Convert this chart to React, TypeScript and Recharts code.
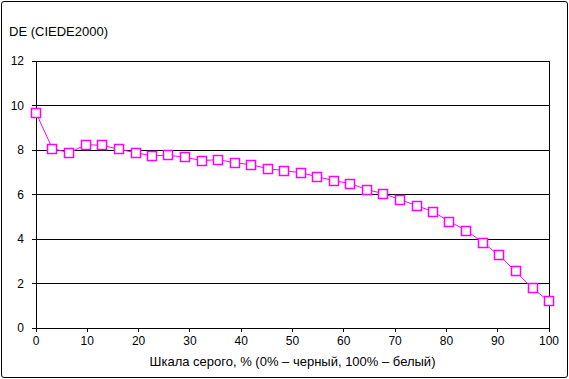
import { CartesianGrid, Line, LineChart, ReferenceLine, XAxis, YAxis } from "recharts";

// Grey scale steps (%), 32 patches from black to white
const grayLevels = [
  0, 3.2, 6.5, 9.7, 12.9, 16.1, 19.4, 22.6, 25.8, 29.0, 32.3, 35.5, 38.7, 41.9, 45.2, 48.4,
  51.6, 54.8, 58.1, 61.3, 64.5, 67.7, 71.0, 74.2, 77.4, 80.6, 83.9, 87.1, 90.3, 93.5, 96.8, 100,
];

// DE (CIEDE2000) per patch
const deValues = [
  9.67, 8.06, 7.88, 8.24, 8.21, 8.04, 7.88, 7.74, 7.76, 7.68, 7.52, 7.57, 7.43, 7.34, 7.16, 7.07,
  6.98, 6.8, 6.62, 6.49, 6.22, 6.04, 5.77, 5.5, 5.23, 4.78, 4.38, 3.84, 3.26, 2.54, 1.78, 1.2,
];

const xTicks = [0, 10, 20, 30, 40, 50, 60, 70, 80, 90, 100];
const yTicks = [0, 2, 4, 6, 8, 10, 12];

const yTitle = "DE (CIEDE2000)";
const xTitle = "Шкала серого, % (0% – черный, 100% – белый)";

const data = grayLevels.map((g, i) => ({ g, de: deValues[i] }));

const FONT = "'Liberation Sans', Arial, sans-serif";
const TICK = { fill: "#000", fontSize: 12, fontFamily: FONT };
const CRISP = { stroke: "#000", shapeRendering: "crispEdges" } as const;

function SquareDot(props: { cx?: number; cy?: number; index?: number }) {
  const { cx, cy, index } = props;
  if (cx == null || cy == null) return null;
  return (
    <rect
      key={index}
      x={Math.round(cx) - 4.5}
      y={Math.round(cy) - 4.5}
      width={9}
      height={9}
      fill="#fff"
      stroke="#ff00ff"
      strokeWidth={1.5}
    />
  );
}

export default function App() {
  return (
    <div
      style={{
        position: "absolute",
        left: 0,
        top: 0,
        width: 569,
        height: 379,
        background: "#fff",
        fontFamily: FONT,
      }}
    >
      <div
        style={{
          position: "absolute",
          left: 1,
          top: 1,
          width: 565,
          height: 375,
          border: "1px solid #000",
          borderRadius: 3,
        }}
      />
      <div style={{ position: "absolute", left: 9, top: 24, fontSize: 13, color: "#000" }}>
        {yTitle}
      </div>
      <div
        style={{
          position: "absolute",
          left: 36,
          width: 513,
          top: 354,
          textAlign: "center",
          fontSize: 13,
          color: "#000",
          whiteSpace: "nowrap",
        }}
      >
        {xTitle}
      </div>
      <LineChart
        width={569}
        height={379}
        data={data}
        margin={{ top: 61, right: 20, bottom: 21, left: 0 }}
        style={{ position: "absolute", left: 0, top: 0 }}
      >
        <CartesianGrid vertical={false} stroke="#000" strokeWidth={1} shapeRendering="crispEdges" />
        <XAxis
          type="number"
          dataKey="g"
          domain={[0, 100]}
          ticks={xTicks}
          interval={0}
          height={30}
          tick={TICK}
          tickSize={4}
          tickMargin={4}
          axisLine={CRISP}
          tickLine={CRISP}
        />
        <YAxis
          type="number"
          domain={[0, 12]}
          ticks={yTicks}
          interval={0}
          width={36}
          tick={TICK}
          tickSize={4}
          tickMargin={8}
          axisLine={CRISP}
          tickLine={CRISP}
        />
        <ReferenceLine x={100} stroke="#000" shapeRendering="crispEdges" />
        <Line
          type="linear"
          dataKey="de"
          stroke="#ff00ff"
          strokeWidth={1}
          dot={<SquareDot />}
          activeDot={false}
          isAnimationActive={false}
        />
      </LineChart>
    </div>
  );
}
